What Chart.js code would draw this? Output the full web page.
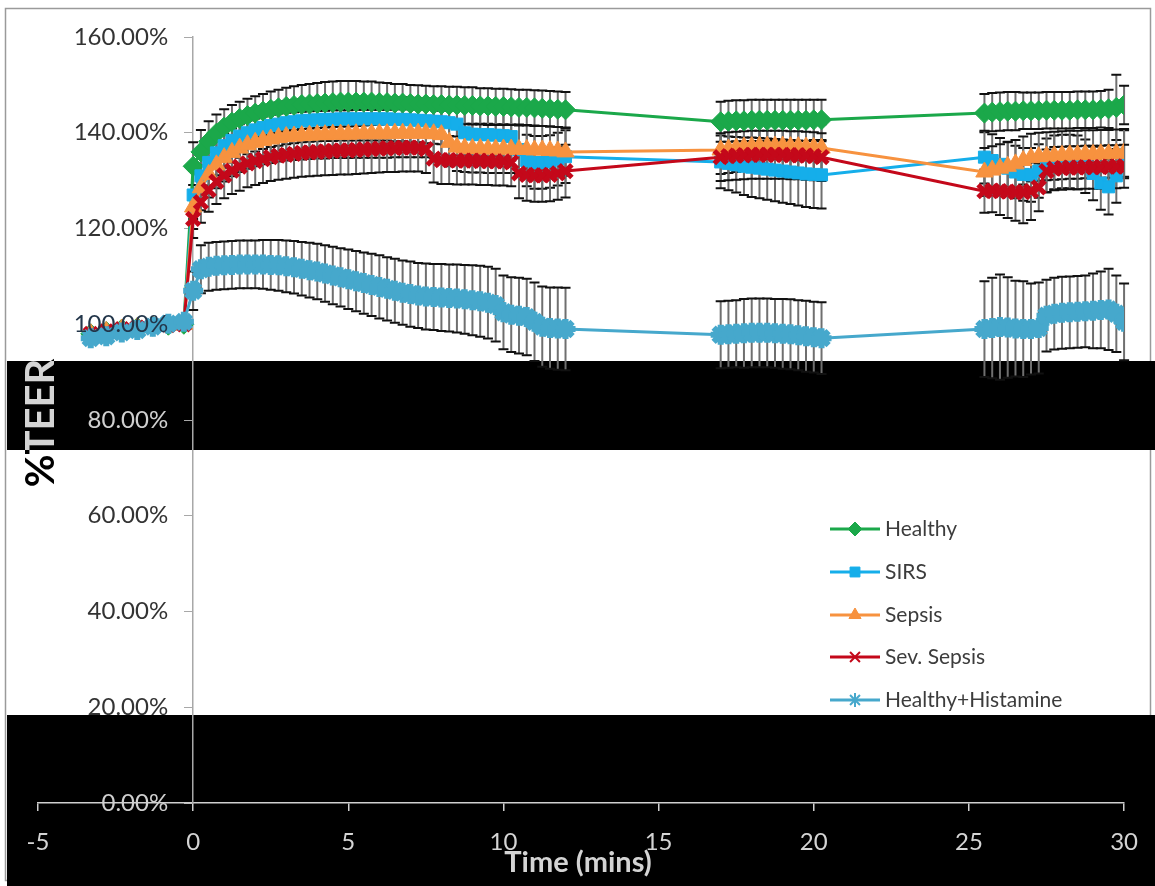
<!DOCTYPE html>
<html>
<head>
<meta charset="utf-8">
<style>
  html, body { margin: 0; padding: 0; background: #fff; }
  canvas { display: block; }
</style>
<script src="https://cdn.jsdelivr.net/npm/chart.js"></script>
</head>
<body>
<canvas id="teer" width="1155" height="886"></canvas>
<script>
// time points (mins)
const times = [
  -3.3, -2.8, -2.3, -1.8, -1.3, -0.8, -0.3,
  0, 0.25, 0.5, 0.75, 1, 1.25, 1.5, 1.75, 2, 2.25, 2.5, 2.75, 3, 3.25, 3.5, 3.75, 4, 4.25, 4.5, 4.75,
  5, 5.25, 5.5, 5.75, 6, 6.25, 6.5, 6.75, 7, 7.25, 7.5, 7.75, 8, 8.25, 8.5, 8.75, 9, 9.25, 9.5, 9.75,
  10, 10.25, 10.5, 10.75, 11, 11.25, 11.5, 11.75, 12,
  17, 17.25, 17.5, 17.75, 18, 18.25, 18.5, 18.75, 19, 19.25, 19.5, 19.75, 20, 20.25,
  25.5, 25.75, 26, 26.25, 26.5, 26.75, 27, 27.25, 27.5, 27.75, 28, 28.25, 28.5, 28.75, 29, 29.25, 29.5, 29.75, 30
];

// %TEER per series
const healthy = [
  98, 98.5, 99, 99.3, 99.6, 99.8, 100,
  133, 136, 138.2, 139.9, 141.2, 142.2, 143, 143.6, 144.1, 144.5,
  144.9, 145.2, 145.5, 145.7, 145.9, 146, 146.1, 146.2, 146.3, 146.4,
  146.4, 146.4, 146.4, 146.4, 146.3, 146.3, 146.2, 146.2, 146.1, 146,
  146, 145.9, 145.9, 145.8, 145.8, 145.7, 145.7, 145.6, 145.6, 145.5,
  145.5, 145.4, 145.3, 145.3, 145.2, 145.1, 145, 144.9, 144.8,
  142.3, 142.4, 142.5, 142.5, 142.6, 142.6, 142.6, 142.6, 142.6, 142.6, 142.6, 142.6, 142.7, 142.7,
  144.1, 144.3, 144.4, 144.5, 144.5, 144.6, 144.6, 144.6, 144.7, 144.7, 144.7, 144.7, 144.8, 144.8, 144.8, 144.9, 145, 145.3, 145.8
];
const sirs = [
  98, 98.5, 99, 99.3, 99.6, 99.8, 100,
  127, 131, 133.8, 135.8, 137.3, 138.4, 139.3, 140, 140.6, 141.1,
  141.5, 141.8, 142.1, 142.3, 142.5, 142.6, 142.7, 142.8, 142.8, 142.9,
  142.9, 142.9, 142.9, 142.9, 142.9, 142.9, 142.8, 142.8, 142.7, 142.6,
  142.5, 142.4, 142.3, 142.1, 141.8, 140, 139.7, 139.6, 139.6, 139.5,
  139.4, 139.2, 136.5, 134.2, 133.8, 133.8, 134, 134.5, 135,
  133.9, 133.6, 133.3, 133, 132.8, 132.6, 132.4, 132.2, 132, 131.8, 131.6, 131.4, 131.3, 131.2,
  134.9, 134.2, 133.4, 132.6, 131.8, 131.3, 131.2, 132, 133.2, 133.8, 134, 134, 133.8, 133, 131.5, 129.5, 128.7, 131, 135.5
];
const sepsis = [
  98, 98.5, 99, 99.3, 99.6, 99.8, 100,
  124.5, 128.5, 131.3, 133.3, 134.8, 135.9, 136.8, 137.5, 138, 138.4,
  138.7, 139, 139.2, 139.3, 139.4, 139.5, 139.6, 139.6, 139.7, 139.7,
  139.7, 139.8, 139.8, 139.8, 139.8, 139.8, 139.9, 139.9, 139.9, 139.9,
  139.9, 139.8, 139.6, 138, 137, 136.8, 136.7, 136.7, 136.6, 136.6,
  136.6, 136.6, 136.5, 136.5, 136.4, 136.4, 136.3, 136.2, 136,
  136.4, 136.6, 136.8, 137, 137.1, 137.2, 137.2, 137.2, 137.2, 137.1, 137.1, 137, 136.9, 136.8,
  131.8, 132.2, 132.6, 133, 133.5, 134.2, 134.8, 135, 135.1, 135.2, 135.3, 135.4, 135.4, 135.5, 135.5, 135.6, 135.6, 135.7, 135.8
];
const sevSepsis = [
  98, 98.5, 99, 99.3, 99.6, 99.8, 100,
  122, 125.5, 128, 129.8, 131.1, 132.1, 132.9, 133.6, 134.1, 134.5,
  134.9, 135.2, 135.4, 135.6, 135.8, 135.9, 136, 136.1, 136.2, 136.3,
  136.3, 136.4, 136.5, 136.6, 136.7, 136.8, 136.8, 136.9, 136.9, 136.9,
  136.6, 134.6, 134.3, 134.3, 134.2, 134.2, 134.2, 134.1, 134.1, 134,
  134, 133.8, 131.5, 131.2, 131.1, 131.1, 131.2, 131.5, 132,
  134.9, 135.1, 135.2, 135.3, 135.4, 135.4, 135.4, 135.4, 135.4, 135.3, 135.3, 135.2, 135.1, 134.9,
  127.8, 127.9, 127.8, 127.7, 127.6, 127.6, 127.8, 128.6, 132, 132.5, 132.6, 132.7, 132.7, 132.8, 132.8, 132.8, 132.9, 132.9, 133
];
const histamine = [
  97.1, 97.5, 98.3, 98.8, 99.5, 100.1, 100.5,
  107, 111.5, 112, 112.2, 112.3, 112.4, 112.5, 112.5, 112.5, 112.5,
  112.4, 112.3, 112.1, 111.9, 111.6, 111.3, 111, 110.6, 110.2, 109.8,
  109.4, 109, 108.6, 108.2, 107.8, 107.4, 107, 106.6, 106.3, 106,
  105.8, 105.7, 105.6, 105.5, 105.4, 105.2, 105, 104.8, 104.5, 104,
  102.5, 102, 101.8, 101.5, 100.5, 99.5, 99.2, 99.1, 99,
  97.8, 97.9, 98, 98.1, 98.2, 98.2, 98.2, 98.1, 98, 97.9, 97.7, 97.5, 97.3, 97.1,
  99, 99.2, 99.4, 99.3, 99.1, 99, 99, 99.2, 101.8, 102.2, 102.4, 102.5, 102.6, 102.7, 102.8, 103, 103.1, 102.2, 100.5
];

// error bar half-lengths (% points)
const healthyErr = [
  0, 0, 0, 0, 0, 0, 0,
  5, 4.6, 4.2, 3.9, 3.7, 3.6, 3.5, 3.5, 3.5, 3.6,
  3.7, 3.8, 3.9, 4, 4.1, 4.2, 4.3, 4.4, 4.4, 4.4,
  4.4, 4.4, 4.3, 4.3, 4.2, 4.1, 4, 4, 3.9, 3.9,
  3.8, 3.8, 3.8, 3.8, 3.8, 3.8, 3.8, 3.7, 3.7, 3.7,
  3.7, 3.7, 3.7, 3.7, 3.7, 3.7, 3.7, 3.7, 3.7,
  4.2, 4.3, 4.3, 4.3, 4.3, 4.3, 4.3, 4.3, 4.3, 4.3, 4.3, 4.3, 4.2, 4.2,
  4, 4, 4, 4, 4, 3.8, 3.8, 3.8, 3.8, 3.8, 3.8, 3.8, 3.8, 3.8, 3.8, 3.8, 4, 6.8, 4
];
const sirsErr = [
  0, 0, 0, 0, 0, 0, 0,
  5, 4.9, 4.8, 4.7, 4.6, 4.6, 4.5, 4.5, 4.5, 4.5,
  4.5, 4.5, 4.5, 4.5, 4.5, 4.5, 4.5, 4.5, 4.5, 4.5,
  4.5, 4.5, 4.5, 4.5, 4.5, 4.5, 4.6, 4.6, 4.6, 4.6,
  4.7, 4.7, 4.7, 4.8, 4.8, 5, 5, 5, 5, 5,
  5, 5, 5.2, 5.4, 5.5, 5.5, 5.5, 5.5, 5.5,
  5.5, 5.6, 5.8, 6, 6.2, 6.3, 6.4, 6.5, 6.6, 6.7, 6.8, 6.9, 7, 7,
  5.5, 5.5, 5.5, 5.5, 5.5, 5.5, 5.6, 5.6, 5.6, 5.6, 5.6, 5.6, 5.6, 5.6, 5.6, 5.6, 5.8, 5.6, 5
];
const sepsisErr = [
  0, 0, 0, 0, 0, 0, 0,
  4.6, 4.7, 4.8, 4.9, 5, 5, 5, 5, 5, 5,
  5, 5, 5, 5, 5, 5, 5, 5, 5, 5,
  5, 5, 5, 5, 5, 5, 5, 5, 5, 5,
  5, 5, 5, 5, 5, 5, 5, 5, 5, 5,
  5, 5, 5, 5, 5, 5, 5, 5, 5,
  5, 5, 5, 5, 5, 5, 5, 5, 5, 5, 5, 5, 5, 5,
  5, 5, 5, 5, 5, 5, 5, 5, 5, 5, 5, 5, 5, 5, 5, 5, 5, 5, 5
];
const sevSepsisErr = [
  0, 0, 0, 0, 0, 0, 0,
  4, 4.3, 4.5, 4.7, 4.8, 4.9, 5, 5, 5, 5,
  5, 5, 5, 5, 5, 5, 5, 5, 5, 5,
  5, 5, 5, 5, 5, 5, 5, 5, 5, 5,
  5, 5, 5, 5, 5, 5, 5, 5, 5, 5,
  5, 5, 5.2, 5.4, 5.5, 5.5, 5.5, 5.5, 5.5,
  5, 5, 5, 5, 5, 5, 5, 5, 5, 5, 5, 5, 5, 5,
  4.5, 4.5, 5, 5.5, 6, 6.5, 6, 5, 4.5, 4.5, 4.5, 4.5, 4.5, 4.5, 4.5, 4.5, 4.5, 4.5, 4.5
];
const histamineErr = [
  0, 0, 0, 0, 0, 0, 0,
  4, 5, 5, 5, 5, 5, 5, 5, 5, 5.1,
  5.2, 5.3, 5.4, 5.5, 5.6, 5.7, 5.8, 5.9, 6, 6.1,
  6.2, 6.3, 6.4, 6.5, 6.6, 6.6, 6.7, 6.7, 6.8, 6.8,
  6.9, 6.9, 7, 7, 7.1, 7.2, 7.3, 7.4, 7.5, 7.6,
  7.7, 7.8, 7.9, 8, 8.2, 8.4, 8.5, 8.6, 8.6,
  7, 7, 7, 7.2, 7.2, 7.2, 7.2, 7.2, 7.3, 7.3, 7.3, 7.4, 7.4, 7.5,
  10, 10.5, 11, 10.5, 10, 10, 9.5, 9.5, 7.5, 7.5, 7.5, 7.5, 7.5, 7.5, 7.8, 8, 8.5, 8, 8
];

const yTicks = [0, 20, 40, 60, 80, 100, 120, 140, 160];
const xTicks = [-5, 0, 5, 10, 15, 20, 25, 30];

// black scan bands in the source picture (pixels)
const bands = [{ top: 361, bottom: 450 }, { top: 715, bottom: 886 }];
const inBand = py => bands.some(b => py >= b.top && py <= b.bottom);

const pts = vals => vals.map((v, i) => ({ x: times[i], y: v }));

Chart.defaults.font.family = 'Lato';

const backdrop = {
  id: 'backdrop',
  beforeDraw(chart) {
    const ctx = chart.ctx;
    ctx.save();
    ctx.fillStyle = '#fff';
    ctx.fillRect(0, 0, chart.width, chart.height);
    ctx.strokeStyle = '#9a9a9a';
    ctx.lineWidth = 1.5;
    ctx.strokeRect(5.5, 8.5, 1145, 872);
    ctx.fillStyle = '#000';
    bands.forEach(b => ctx.fillRect(7, b.top, chart.width - 7, b.bottom - b.top));
    ctx.restore();
  }
};

const errorBars = {
  id: 'errorBars',
  beforeDatasetsDraw(chart) {
    const { ctx, scales: { x, y } } = chart;
    ctx.save();
    chart.data.datasets.forEach(ds => {
      ds.errorBars.forEach((e, i) => {
        if (!e) return;
        const p = ds.data[i];
        const px = x.getPixelForValue(p.x);
        const top = y.getPixelForValue(p.y + e);
        const bot = y.getPixelForValue(p.y - e);
        ctx.strokeStyle = '#6f6f6f';
        ctx.lineWidth = 2;
        ctx.beginPath();
        ctx.moveTo(px, top);
        ctx.lineTo(px, bot);
        ctx.stroke();
        ctx.strokeStyle = '#111';
        ctx.lineWidth = 2;
        ctx.beginPath();
        ctx.moveTo(px - 5, top); ctx.lineTo(px + 5, top);
        ctx.moveTo(px - 5, bot); ctx.lineTo(px + 5, bot);
        ctx.stroke();
      });
    });
    ctx.restore();
  }
};

const extras = {
  id: 'extras',
  afterDraw(chart) {
    const ctx = chart.ctx;
    const ys = chart.scales.y;
    const xs = chart.scales.x;
    const clipBands = () => {
      ctx.beginPath();
      bands.forEach(b => ctx.rect(0, b.top, chart.width, b.bottom - b.top));
      ctx.clip();
    };

    // y tick labels, left of the axis at x = 0
    ctx.save();
    ctx.font = '24px Lato';
    ctx.textAlign = 'right';
    ctx.textBaseline = 'middle';
    const axisX = xs.getPixelForValue(0);
    yTicks.forEach(v => {
      const py = ys.getPixelForValue(v);
      ctx.fillStyle = inBand(py) ? '#cfcfcf' : (v === 100 ? '#23364a' : '#333');
      ctx.fillText(v.toFixed(2) + '%', axisX - 25, py);
    });
    ctx.restore();

    const yTitle = color => {
      ctx.save();
      ctx.font = 'bold 40px Lato';
      ctx.textAlign = 'center';
      ctx.textBaseline = 'middle';
      ctx.fillStyle = color;
      ctx.translate(41, 423);
      ctx.rotate(-Math.PI / 2);
      ctx.fillText('%TEER', 0, 0);
      ctx.restore();
    };
    yTitle('#000');
    ctx.save();
    clipBands();
    yTitle('#d4d4d4');
    ctx.restore();

    ctx.save();
    ctx.font = 'bold 29px Lato';
    ctx.textAlign = 'center';
    ctx.textBaseline = 'middle';
    ctx.fillStyle = '#d4d4d4';
    ctx.fillText('Time (mins)', (chart.chartArea.left + chart.chartArea.right) / 2 - 3, 863);
    ctx.restore();

    // legend
    const rows = [529, 572, 615, 657, 700];
    chart.data.datasets.forEach((ds, i) => {
      const yy = rows[i];
      ctx.save();
      ctx.strokeStyle = ds.borderColor;
      ctx.lineWidth = 3;
      ctx.beginPath();
      ctx.moveTo(830, yy);
      ctx.lineTo(880, yy);
      ctx.stroke();
      ctx.fillStyle = ds.backgroundColor;
      ctx.strokeStyle = ds.borderColor;
      const bw = Math.min(ds.pointBorderWidth, 2);
      ctx.lineWidth = bw;
      Chart.helpers.drawPoint(ctx, {
        pointStyle: ds.pointStyle, rotation: 0, radius: 7, borderWidth: bw
      }, 855, yy);
      ctx.font = '21px Lato';
      ctx.fillStyle = '#3c3c3c';
      ctx.textAlign = 'left';
      ctx.textBaseline = 'middle';
      ctx.fillText(ds.label, 885, yy);
      ctx.restore();
    });
  }
};

const seriesStyle = (label, color, style, radius, pbw, order) => ({
  label, borderColor: color, backgroundColor: color, pointBackgroundColor: color,
  pointBorderColor: color, pointStyle: style, pointRadius: radius, pointBorderWidth: pbw,
  borderWidth: 3, order
});

new Chart(document.getElementById('teer'), {
  type: 'line',
  data: {
    datasets: [
      { ...seriesStyle('Healthy', '#1BA84A', 'rectRot', 10, 1, 5), data: pts(healthy), errorBars: healthyErr },
      { ...seriesStyle('SIRS', '#15AEEA', 'rect', 8.5, 1, 4), data: pts(sirs), errorBars: sirsErr },
      { ...seriesStyle('Sepsis', '#F7923F', 'triangle', 10, 1, 3), data: pts(sepsis), errorBars: sepsisErr },
      { ...seriesStyle('Sev. Sepsis', '#C4081A', 'crossRot', 9, 5, 2), data: pts(sevSepsis), errorBars: sevSepsisErr },
      { ...seriesStyle('Healthy+Histamine', '#46A8CC', 'star', 10, 6, 1), data: pts(histamine), errorBars: histamineErr }
    ]
  },
  options: {
    responsive: false,
    animation: false,
    devicePixelRatio: 1,
    layout: { padding: { left: 38, right: 27, top: 37, bottom: 28 } },
    plugins: { legend: { display: false }, tooltip: { enabled: false } },
    scales: {
      x: {
        type: 'linear', min: xTicks[0], max: xTicks[xTicks.length - 1],
        afterBuildTicks: s => { s.ticks = xTicks.map(v => ({ value: v })); },
        afterFit: s => { s.height = 55; },
        ticks: { color: '#d4d4d4', font: { size: 24 }, padding: 17, maxRotation: 0 },
        grid: { drawOnChartArea: false, tickLength: 8, color: '#cfcfcf', lineWidth: 1.5 },
        border: { color: '#cfcfcf', width: 1.5 }
      },
      y: {
        type: 'linear', min: yTicks[0], max: yTicks[yTicks.length - 1],
        position: { x: 0 },
        afterBuildTicks: s => { s.ticks = yTicks.map(v => ({ value: v })); },
        ticks: { display: false },
        grid: { drawOnChartArea: false, tickLength: 8, color: '#a8a8a8' },
        border: { color: '#a8a8a8', width: 1.5 }
      }
    }
  },
  plugins: [backdrop, errorBars, extras]
});
</script>
</body>
</html>
